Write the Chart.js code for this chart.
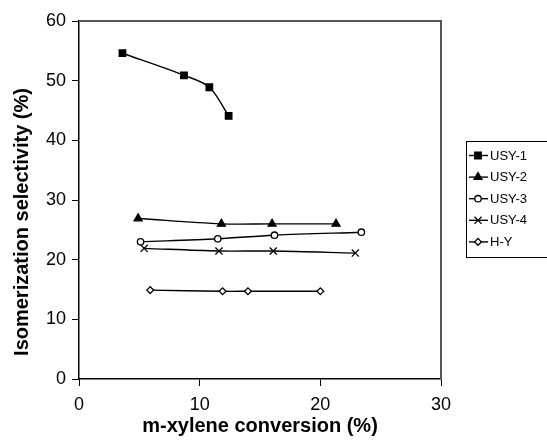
<!DOCTYPE html>
<html>
<head>
<meta charset="utf-8">
<script src="https://cdn.jsdelivr.net/npm/chart.js@4.4.1/dist/chart.umd.min.js"></script>
<style>
html,body{margin:0;padding:0;background:#fff;}
canvas{display:block;}
</style>
</head>
<body>
<canvas id="c" width="547" height="442"></canvas>
<script>
// ---- data ----
const seriesNames = ['USY-1', 'USY-2', 'USY-3', 'USY-4', 'H-Y'];
const xUSY1 = [3.6, 8.7, 10.8, 12.4];
const yUSY1 = [54.6, 50.9, 48.9, 44.1];
const xUSY2 = [4.9, 11.8, 16.0, 21.3];
const yUSY2 = [26.9, 26.0, 26.0, 26.0];
const xUSY3 = [5.1, 11.5, 16.2, 23.4];
const yUSY3 = [23.0, 23.5, 24.1, 24.6];
const xUSY4 = [5.4, 11.6, 16.1, 22.9];
const yUSY4 = [21.9, 21.45, 21.45, 21.1];
const xHY = [5.9, 11.9, 14.0, 20.0];
const yHY = [14.9, 14.7, 14.7, 14.7];
const xTicks = [0, 10, 20, 30];
const yTicks = [0, 10, 20, 30, 40, 50, 60];
const xTitle = 'm-xylene conversion (%)';
const yTitle = 'Isomerization selectivity (%)';

const FONT = "'Liberation Sans', Arial, Helvetica, sans-serif";
const pts = (xs, ys) => xs.map((x, i) => ({x: x, y: ys[i]}));

const styles = [
  {pointStyle: 'rect', pointRadius: 4.6, pointBackgroundColor: '#000'},
  {pointStyle: 'triangle', pointRadius: 4.6, pointBackgroundColor: '#000'},
  {pointStyle: 'circle', pointRadius: 3.2, pointBackgroundColor: '#fff'},
  {pointStyle: 'crossRot', pointRadius: 5, pointBackgroundColor: '#000'},
  {pointStyle: 'rectRot', pointRadius: 3.4, pointBackgroundColor: '#fff'}
];
const allData = [
  pts(xUSY1, yUSY1), pts(xUSY2, yUSY2), pts(xUSY3, yUSY3), pts(xUSY4, yUSY4), pts(xHY, yHY)
];

const datasets = seriesNames.map((name, i) => Object.assign({
  label: name,
  data: allData[i],
  showLine: true,
  borderColor: '#000',
  borderWidth: 1.4,
  pointBorderColor: '#000',
  pointBorderWidth: 1.3,
  tension: 0.33,
  fill: false
}, styles[i]));

const frame = {
  id: 'frame',
  beforeDatasetsDraw(chart) {
    const {ctx, chartArea: a} = chart;
    ctx.save();
    ctx.strokeStyle = '#555';
    ctx.lineWidth = 2;
    ctx.beginPath();
    ctx.moveTo(a.left, a.top);
    ctx.lineTo(a.right, a.top);
    ctx.lineTo(a.right, a.bottom);
    ctx.stroke();
    ctx.restore();
  },
  afterDraw(chart) {
    const ctx = chart.ctx;
    // y axis title
    ctx.save();
    ctx.translate(22, 222);
    ctx.rotate(-Math.PI / 2);
    ctx.font = 'bold 20px ' + FONT;
    ctx.fillStyle = '#000';
    ctx.textAlign = 'center';
    ctx.textBaseline = 'middle';
    ctx.fillText(yTitle, 0, 0);
    ctx.restore();
    // legend
    ctx.save();
    ctx.strokeStyle = '#000';
    ctx.lineWidth = 1;
    ctx.strokeRect(466.5, 141.5, 120, 116);
    chart.data.datasets.forEach((ds, i) => {
      const y = 155.5 + i * 21.6;
      ctx.strokeStyle = '#000';
      ctx.lineWidth = 1.4;
      ctx.beginPath();
      ctx.moveTo(469, y);
      ctx.lineTo(488, y);
      ctx.stroke();
      ctx.fillStyle = ds.pointBackgroundColor;
      ctx.strokeStyle = '#000';
      ctx.lineWidth = ds.pointBorderWidth;
      Chart.helpers.drawPoint(ctx, {pointStyle: ds.pointStyle, radius: ds.pointRadius, rotation: 0, borderWidth: ds.pointBorderWidth}, 478, y);
      ctx.fillStyle = '#000';
      ctx.font = '13px ' + FONT;
      ctx.textAlign = 'left';
      ctx.textBaseline = 'middle';
      ctx.fillText(ds.label, 490, y + 0.5);
    });
    ctx.restore();
  }
};

new Chart(document.getElementById('c'), {
  type: 'scatter',
  data: {datasets: datasets},
  plugins: [frame],
  options: {
    responsive: false,
    animation: false,
    devicePixelRatio: 1,
    layout: {padding: {left: 0, right: 106, top: 21, bottom: 0}},
    plugins: {legend: {display: false}, tooltip: {enabled: false}},
    scales: {
      x: {
        type: 'linear', min: 0, max: 30,
        afterBuildTicks(s) { s.ticks = xTicks.map(v => ({value: v})); },
        afterFit(s) { s.height = 63; },
        grid: {drawOnChartArea: false, drawTicks: true, tickLength: 7, color: '#000', lineWidth: 1},
        border: {display: true, color: '#000', width: 1.5},
        ticks: {color: '#000', font: {family: FONT, size: 18}, padding: 8, maxRotation: 0},
        title: {display: true, text: xTitle, color: '#000', font: {family: FONT, size: 20, weight: 'bold'}, padding: {top: 0, bottom: 4}}
      },
      y: {
        type: 'linear', min: 0, max: 60,
        afterBuildTicks(s) { s.ticks = yTicks.map(v => ({value: v})); },
        afterFit(s) { s.width = 79; },
        grid: {drawOnChartArea: false, drawTicks: true, tickLength: 7, color: '#000', lineWidth: 1},
        border: {display: true, color: '#000', width: 1.5},
        ticks: {color: '#000', font: {family: FONT, size: 18}, padding: 6},
        title: {display: false}
      }
    }
  }
});
</script>
</body>
</html>
